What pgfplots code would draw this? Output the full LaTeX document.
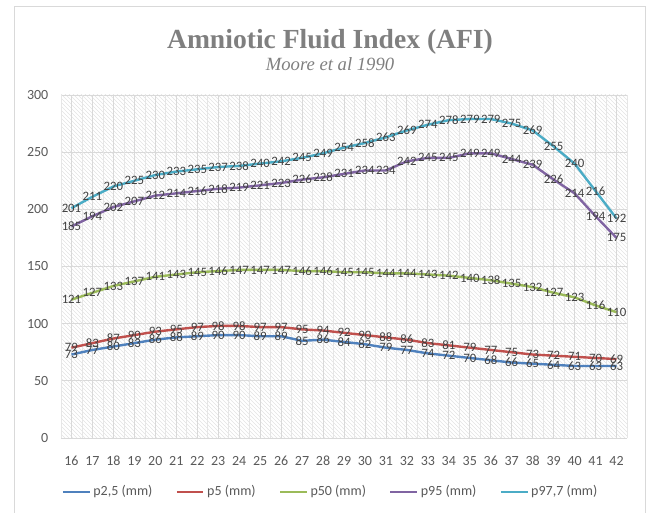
\documentclass[border=0pt]{standalone}
\usepackage{fontspec}
\setmainfont{Carlito}
\newfontfamily\titlefont{Liberation Serif}
\usepackage{pgfplots}
\pgfplotsset{compat=1.18}
\usetikzlibrary{patterns}
\definecolor{cA}{HTML}{4F81BD}
\definecolor{cB}{HTML}{C0504D}
\definecolor{cC}{HTML}{9BBB59}
\definecolor{cD}{HTML}{8064A2}
\definecolor{cE}{HTML}{4BACC6}
\definecolor{tickgray}{HTML}{595959}
\definecolor{labgray}{HTML}{404040}
\definecolor{gridgray}{HTML}{D9D9D9}
\definecolor{vgridgray}{HTML}{E6E6E6}
\definecolor{titlegray}{HTML}{7F7F7F}
\begin{document}
\begin{tikzpicture}
\useasboundingbox (0,0) rectangle (486.75pt,384.75pt);
\draw[gridgray, line width=0.75pt] (10.5pt,0) -- (10.5pt,379.5pt) -- (483.75pt,379.5pt) -- (483.75pt,0);
\node[font=\titlefont\bfseries\fontsize{20.7}{20.7}\selectfont, text=titlegray] at (247.5pt,353.5pt) {Amniotic Fluid Index (AFI)};
\node[font=\titlefont\itshape\fontsize{14}{14}\selectfont, text=titlegray] at (247.5pt,336.5pt) {Moore et al 1990};
\begin{axis}[
  at={(45.75pt,56.25pt)}, anchor=south west,
  scale only axis, width=424.5pt, height=257.25pt,
  xmin=15.5, xmax=42.5, ymin=0, ymax=300,
  xtick={16,...,42}, ytick={0,50,...,300},
  extra x ticks={15.5,16.5,...,42.5},
  extra x tick labels={},
  extra x tick style={grid=major, major tick length=0pt, major grid style={vgridgray, line width=0.5pt}},
  minor x tick num=1,
  xmajorgrids, xminorgrids, ymajorgrids,
  major grid style={gridgray, line width=0.6pt},
  minor grid style={vgridgray, line width=0.5pt},
  major tick length=0pt, minor tick length=0pt,
  axis line style={draw=none},
  axis background/.style={pattern=north west lines, pattern color=gray!22},
  tick label style={font=\fontsize{10.5}{10.5}\selectfont, text=tickgray},
  xticklabel style={yshift=-10pt},
  yticklabel style={xshift=-6pt},
  /pgf/number format/assume math mode=true,
  nodes near coords,
  every node near coord/.append style={anchor=center, font=\fontsize{9.6}{9.6}\selectfont, text=labgray, inner sep=0pt},
  legend style={at={(0.477,-0.157)}, anchor=center, draw=none, fill=none, legend columns=5,
    font=\fontsize{10.5}{10.5}\selectfont, text=tickgray,
    /tikz/every even column/.append style={column sep=15.5pt}},
  legend image code/.code={\draw[#1, line width=1.6pt] (0pt,0pt) -- (20pt,0pt);},
  every axis plot/.append style={line width=1.8pt, mark=none},
]
\addplot[cA] coordinates {(16,73)(17,77)(18,80)(19,83)(20,86)(21,88)(22,89)(23,90)(24,90)(25,89)(26,89)(27,85)(28,86)(29,84)(30,82)(31,79)(32,77)(33,74)(34,72)(35,70)(36,68)(37,66)(38,65)(39,64)(40,63)(41,63)(42,63)};
\addlegendentry{p2,5 (mm)}
\addplot[cB] coordinates {(16,79)(17,83)(18,87)(19,90)(20,93)(21,95)(22,97)(23,98)(24,98)(25,97)(26,97)(27,95)(28,94)(29,92)(30,90)(31,88)(32,86)(33,83)(34,81)(35,79)(36,77)(37,75)(38,73)(39,72)(40,71)(41,70)(42,69)};
\addlegendentry{p5 (mm)}
\addplot[cC] coordinates {(16,121)(17,127)(18,133)(19,137)(20,141)(21,143)(22,145)(23,146)(24,147)(25,147)(26,147)(27,146)(28,146)(29,145)(30,145)(31,144)(32,144)(33,143)(34,142)(35,140)(36,138)(37,135)(38,132)(39,127)(40,123)(41,116)(42,110)};
\addlegendentry{p50 (mm)}
\addplot[cD] coordinates {(16,185)(17,194)(18,202)(19,207)(20,212)(21,214)(22,216)(23,218)(24,219)(25,221)(26,223)(27,226)(28,228)(29,231)(30,234)(31,234)(32,242)(33,245)(34,245)(35,249)(36,249)(37,244)(38,239)(39,226)(40,214)(41,194)(42,175)};
\addlegendentry{p95 (mm)}
\addplot[cE] coordinates {(16,201)(17,211)(18,220)(19,225)(20,230)(21,233)(22,235)(23,237)(24,238)(25,240)(26,242)(27,245)(28,249)(29,254)(30,258)(31,263)(32,269)(33,274)(34,278)(35,279)(36,279)(37,275)(38,269)(39,255)(40,240)(41,216)(42,192)};
\addlegendentry{p97,7 (mm)}
\end{axis}
\end{tikzpicture}
\end{document}
